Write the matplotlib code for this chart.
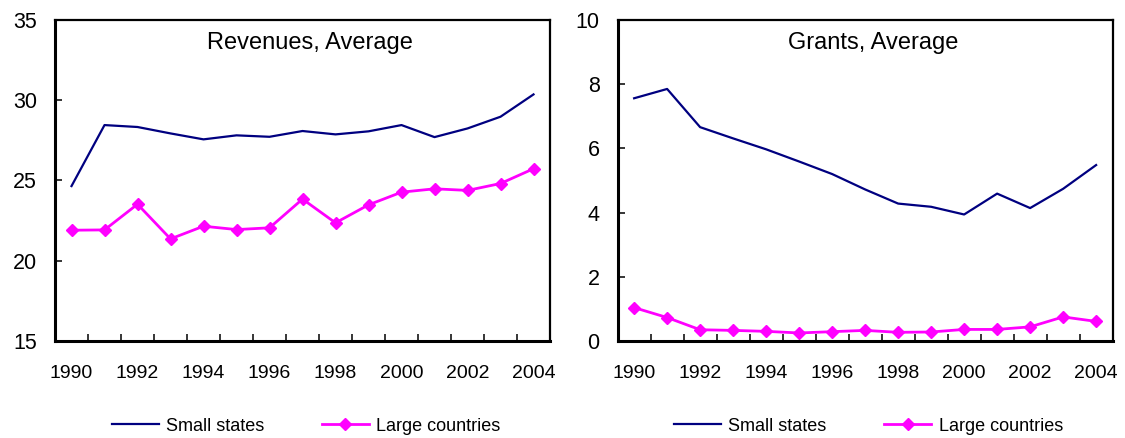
import matplotlib
matplotlib.use("Agg")
import matplotlib.pyplot as plt
from matplotlib.ticker import FixedLocator, NullFormatter

plt.rcParams['font.family'] = ['Liberation Sans', 'DejaVu Sans']

years = list(range(1990, 2005))
year_labels = [str(y) if y % 2 == 0 else '' for y in years]

# Revenues, average (percent of GDP)
rev_small = [24.65, 28.45, 28.33, 27.93, 27.56, 27.81, 27.72, 28.08, 27.87, 28.06,
             28.45, 27.70, 28.24, 28.97, 30.36]
rev_large = [21.90, 21.92, 23.52, 21.36, 22.15, 21.94, 22.05, 23.84, 22.36, 23.48,
             24.27, 24.48, 24.38, 24.81, 25.73]

# Grants, average (percent of GDP)
grant_small = [7.56, 7.85, 6.66, 6.31, 5.97, 5.59, 5.20, 4.72, 4.28, 4.18,
               3.94, 4.59, 4.14, 4.74, 5.48]
grant_large = [1.04, 0.73, 0.35, 0.33, 0.30, 0.25, 0.29, 0.33, 0.27, 0.28,
               0.36, 0.36, 0.44, 0.75, 0.61]

navy = '#000080'
magenta = '#FF00FF'


def draw_panel(ax, small, large, title, ylim, yticks):
    # excel-like category axis: ticks between categories, labels at centres
    x = range(len(years))
    l1, = ax.plot(x, small, color=navy, linewidth=1.6, label='Small states')
    l2, = ax.plot(x, large, color=magenta, linewidth=2.0, marker='D', markersize=6.2,
                  label='Large countries')
    ax.set_xlim(-0.5, len(years) - 0.5)
    ax.set_ylim(ylim)
    ax.set_yticks(yticks)
    ax.xaxis.set_major_locator(FixedLocator([i + 0.5 for i in range(len(years) - 1)]))
    ax.xaxis.set_major_formatter(NullFormatter())
    ax.set_xticks(list(x), minor=True)
    ax.set_xticklabels(year_labels, minor=True)
    ax.tick_params(axis='x', which='major', direction='in', length=5, width=1.1)
    ax.tick_params(axis='x', which='minor', length=0, pad=17, labelsize=14)
    ax.tick_params(axis='y', direction='in', length=5, width=1.1, pad=13, labelsize=15.5)
    for side in ['left', 'bottom']:
        ax.spines[side].set_linewidth(2.2)
    for side in ['top', 'right']:
        ax.spines[side].set_linewidth(1.6)
    ax.text(0.516, 0.927, title, transform=ax.transAxes, ha='center', va='center', fontsize=17)
    return l1, l2


fig = plt.figure(figsize=(11.25, 4.38), dpi=100)
ax1 = fig.add_axes([0.0489, 0.2215, 0.44, 0.733])
ax2 = fig.add_axes([0.549, 0.2215, 0.44, 0.733])

h = draw_panel(ax1, rev_small, rev_large, 'Revenues, Average', (15, 35), range(15, 36, 5))
draw_panel(ax2, grant_small, grant_large, 'Grants, Average', (0, 10), range(0, 11, 2))

for ax in [ax1, ax2]:
    pos = ax.get_position()
    fig.legend(h, ['Small states', 'Large countries'], loc='center', ncol=2,
               bbox_to_anchor=(pos.x0 + pos.width * 0.507, 0.027), frameon=False,
               fontsize=13, handlelength=2.6, handletextpad=0.4, columnspacing=3.2)

fig.savefig('out.png', dpi=100)
